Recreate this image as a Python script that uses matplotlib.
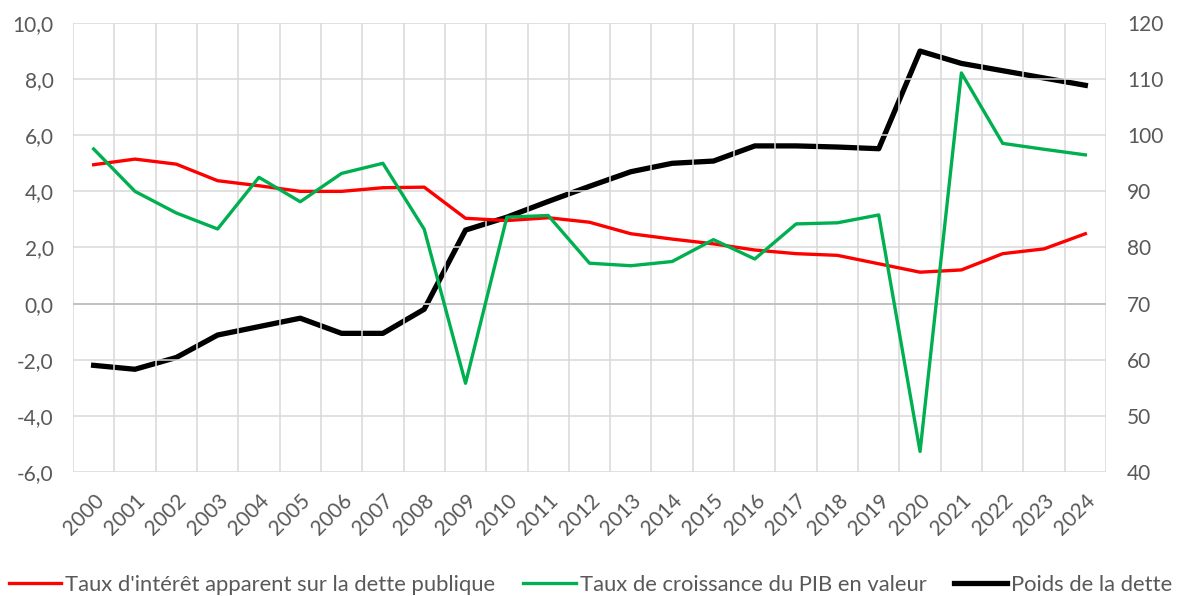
import matplotlib
matplotlib.use("Agg")
import matplotlib.pyplot as plt
import numpy as np

plt.rcParams['font.family'] = ['Lato', 'DejaVu Sans']

years = [str(y) for y in range(2000, 2025)]

# taux d'intérêt apparent (axe gauche, %)
taux_interet = [4.95, 5.15, 4.97, 4.38, 4.2, 4.0, 4.0, 4.13, 4.15, 3.04, 2.96, 3.06, 2.9,
                2.49, 2.3, 2.13, 1.91, 1.78, 1.72, 1.42, 1.12, 1.2, 1.78, 1.95, 2.49]

# croissance du PIB en valeur (axe gauche, %)
croissance_pib = [5.51, 4.0, 3.23, 2.66, 4.5, 3.63, 4.64, 5.0, 2.65, -2.84, 3.08, 3.14, 1.44,
                  1.35, 1.5, 2.28, 1.59, 2.84, 2.88, 3.16, -5.27, 8.22, 5.71, 5.5, 5.3]

# poids de la dette (axe droit, % du PIB)
poids_dette = [59.0, 58.3, 60.4, 64.4, 65.9, 67.4, 64.7, 64.7, 69.0, 83.1, 85.4, 88.2, 90.9,
               93.5, 95.0, 95.4, 98.1, 98.1, 97.9, 97.6, 115.0, 112.8, 111.5, 110.2, 108.9]

labels = ["Taux d'intérêt apparent sur la dette publique",
          "Taux de croissance du PIB en valeur",
          "Poids de la dette"]

txt = '#595959'
grid = '#D9D9D9'

fig = plt.figure(figsize=(11.81, 5.96), dpi=100)
ax = fig.add_axes([0.0618, 0.2081, 0.8747, 0.7533])
ax2 = ax.twinx()

x = np.arange(len(years))
l1, = ax.plot(x, taux_interet, color='#FF0000', lw=2.4, solid_joinstyle='round', zorder=3)
l2, = ax.plot(x, croissance_pib, color='#00B050', lw=2.4, solid_joinstyle='round', zorder=3)
l3, = ax2.plot(x, poids_dette, color='black', lw=3.8, solid_joinstyle='round', zorder=3)

ax.set_xlim(-0.5, len(years) - 0.5)
ax.set_ylim(-6, 10)
ax.set_yticks(np.arange(-6, 11, 2))
ax.set_yticklabels([f"{v:.1f}".replace('.', ',') for v in np.arange(-6, 11, 2)])
ax2.set_ylim(40, 120)
ax2.set_yticks(np.arange(40, 121, 10))

ax.set_xticks(x)
ax.set_xticklabels(years, rotation=45, ha='right', va='top', rotation_mode='anchor')
ax.set_xticks(np.arange(-0.5, len(years), 1), minor=True)

ax.grid(True, axis='y', color=grid, lw=1.1)
ax.grid(True, axis='x', which='minor', color=grid, lw=1.1)
ax.grid(False, axis='x', which='major')
ax.axhline(0, color='#BFBFBF', lw=1.3, zorder=1)
ax.set_axisbelow(True)

for a in (ax, ax2):
    for s in a.spines.values():
        s.set_visible(False)
    a.tick_params(which='both', length=0, colors=txt, labelsize=15)
ax.tick_params(axis='y', pad=14)
ax2.tick_params(axis='y', pad=15)
ax.tick_params(axis='x', pad=13)

ax.set_zorder(ax2.get_zorder() + 1)
ax.patch.set_visible(False)

leg = fig.legend([l1, l2, l3], labels, loc='center', bbox_to_anchor=(0.5, 1 - 585 / 596),
                 ncol=3, frameon=False, fontsize=15.8, handlelength=2.4, handletextpad=0.18,
                 columnspacing=1.27, labelcolor=txt, borderaxespad=0, borderpad=0)

fig.savefig('out.png', dpi=100)
